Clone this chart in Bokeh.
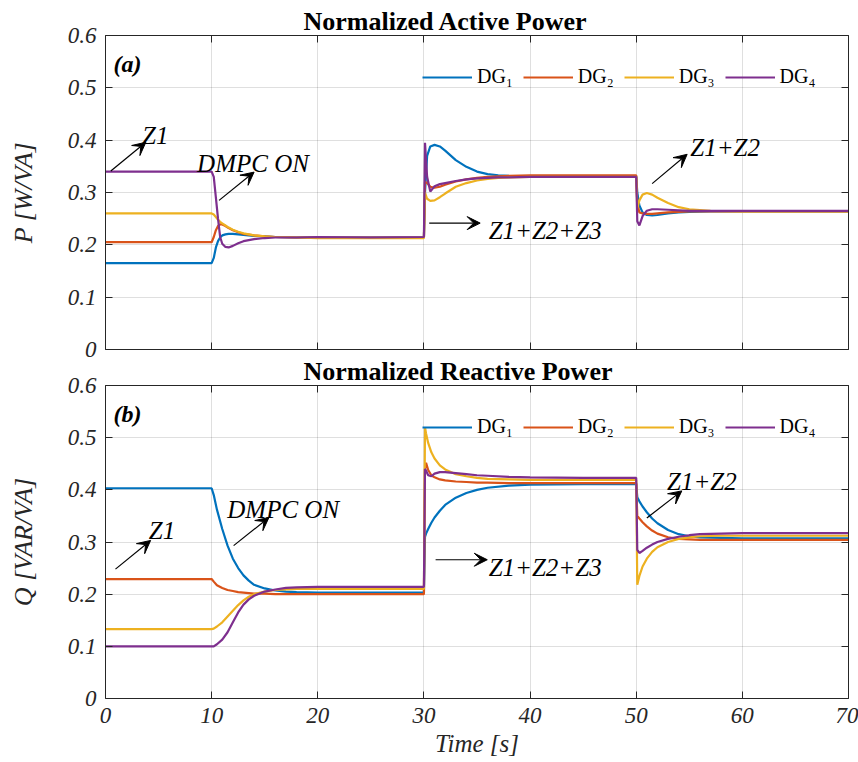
from bokeh.plotting import figure
from bokeh.models import (Range1d, LinearAxis, FixedTicker, Legend, LegendItem,
                          Label, Arrow, VeeHead, CustomJSTickFormatter)
from bokeh.layouts import column
from bokeh.embed import file_html
from bokeh.resources import INLINE

# ---------------- data ----------------
t_p = [0, 10, 10.2, 10.4, 10.6, 10.8, 11, 11.3, 11.6, 12, 12.5, 13, 14, 15, 16,
       18, 20, 25, 30, 30.1, 30.3, 30.6, 31, 31.5, 32, 33, 34, 35, 36, 37,
       38, 40, 45, 50, 50.1, 50.3, 50.6, 51, 51.5, 52, 53, 54, 55, 57, 60, 65, 70]
p_dg1 = [0.165, 0.165, 0.175, 0.195, 0.207, 0.214, 0.218, 0.220, 0.221, 0.221,
         0.220, 0.219, 0.217, 0.216, 0.215,
         0.214, 0.214, 0.214, 0.214, 0.300,
         0.370, 0.388, 0.391, 0.388, 0.380,
         0.362, 0.349, 0.340, 0.335, 0.333,
         0.332, 0.331, 0.331, 0.331, 0.300,
         0.275, 0.262, 0.257, 0.256, 0.257,
         0.260, 0.262, 0.263, 0.264, 0.264,
         0.264, 0.264]
p_dg2 = [0.205, 0.205, 0.215, 0.228, 0.236, 0.239, 0.239, 0.236, 0.232, 0.228,
         0.224, 0.221, 0.218, 0.216, 0.215,
         0.214, 0.214, 0.214, 0.214, 0.320,
         0.318, 0.311, 0.309, 0.311, 0.315,
         0.321, 0.325, 0.328, 0.330, 0.331,
         0.332, 0.333, 0.333, 0.333, 0.280,
         0.262, 0.260, 0.259, 0.259, 0.260,
         0.262, 0.263, 0.264, 0.264, 0.264,
         0.264, 0.264]
p_dg3 = [0.260, 0.260, 0.258, 0.253, 0.248, 0.244, 0.241, 0.237, 0.233, 0.229,
         0.225, 0.222, 0.218, 0.216, 0.215,
         0.214, 0.213, 0.213, 0.213, 0.300,
         0.288, 0.284, 0.285, 0.291, 0.298,
         0.311, 0.318, 0.323, 0.326, 0.328,
         0.329, 0.330, 0.330, 0.330, 0.270,
         0.285, 0.296, 0.299, 0.296, 0.290,
         0.280, 0.272, 0.268, 0.265, 0.264,
         0.264, 0.264]
p_dg4 = [0.340, 0.340, 0.330, 0.290, 0.250, 0.215, 0.202, 0.196, 0.195, 0.198,
         0.203, 0.207, 0.211, 0.213, 0.214,
         0.214, 0.215, 0.214, 0.215, 0.395,
         0.330, 0.302, 0.312, 0.316, 0.318,
         0.322, 0.325, 0.327, 0.328, 0.329,
         0.329, 0.330, 0.330, 0.330, 0.245,
         0.237, 0.255, 0.265, 0.268, 0.268,
         0.267, 0.266, 0.265, 0.265, 0.265,
         0.265, 0.265]

t_q = [0, 10, 10.2, 10.5, 11, 11.5, 12, 12.5, 13, 13.5, 14, 15, 16, 17, 18, 20,
       25, 30, 30.1, 30.2, 30.4, 30.7, 31, 31.5, 32, 33, 34, 35, 36, 38, 40,
       45, 50, 50.1, 50.3, 50.6, 51, 51.5, 52, 53, 54, 55, 56, 58, 60, 65, 70]
q_dg1 = [0.403, 0.403, 0.390, 0.362, 0.325, 0.293,
         0.268, 0.250, 0.236, 0.226, 0.218, 0.211, 0.207, 0.205, 0.204, 0.203, 0.203, 0.203,
         0.310, 0.316, 0.325, 0.337, 0.347, 0.360, 0.371, 0.385, 0.394, 0.400, 0.404,
         0.408, 0.410, 0.411, 0.411,
         0.386, 0.378, 0.368, 0.357, 0.345, 0.336, 0.323, 0.315, 0.311, 0.309,
         0.308, 0.307, 0.307, 0.307]
q_dg2 = [0.229, 0.229, 0.224, 0.217, 0.212, 0.208,
         0.206, 0.204, 0.203, 0.202, 0.201, 0.201, 0.200, 0.200, 0.200, 0.200, 0.200, 0.200,
         0.440, 0.452, 0.438, 0.428, 0.424, 0.420, 0.418, 0.416, 0.415, 0.414, 0.414,
         0.413, 0.413, 0.413, 0.413,
         0.350, 0.345, 0.338, 0.330, 0.322, 0.316, 0.309, 0.306, 0.305, 0.304,
         0.304, 0.304, 0.304, 0.304]
q_dg3 = [0.133, 0.133, 0.134, 0.138, 0.146, 0.157,
         0.168, 0.179, 0.188, 0.195, 0.200, 0.205, 0.208, 0.209, 0.210, 0.210, 0.210, 0.210,
         0.520, 0.508, 0.490, 0.472, 0.460, 0.447, 0.439, 0.430, 0.426, 0.423, 0.421,
         0.420, 0.419, 0.419, 0.419,
         0.218, 0.235, 0.253, 0.268, 0.281, 0.290, 0.300, 0.306, 0.309, 0.311,
         0.312, 0.312, 0.312, 0.312]
q_dg4 = [0.100, 0.100, 0.100, 0.104, 0.113, 0.127,
         0.146, 0.165, 0.180, 0.190, 0.197, 0.205, 0.209, 0.212, 0.213, 0.214, 0.214, 0.214,
         0.440, 0.437, 0.428, 0.426, 0.431, 0.434, 0.434, 0.432, 0.430, 0.428, 0.427,
         0.425, 0.424, 0.423, 0.423,
         0.285, 0.279, 0.283, 0.289, 0.295, 0.300, 0.306, 0.310, 0.313, 0.315,
         0.316, 0.317, 0.317, 0.317]

series_labels = ["DG\u2081", "DG\u2082", "DG\u2083", "DG\u2084"]
x_ticks = [0, 10, 20, 30, 40, 50, 60, 70]
y_ticks = [0, 0.1, 0.2, 0.3, 0.4, 0.5, 0.6]
y_tick_labels = ["0", "0.1", "0.2", "0.3", "0.4", "0.5", "0.6"]
titles = ["Normalized Active Power", "Normalized Reactive Power"]

# ---------------- styling ----------------
FONT = "Liberation Serif"
COLORS = ["#0072BD", "#D95319", "#EDB120", "#7E2F8E"]
AX = "#262626"


def style_axis(ax, ticks, labels=True, overrides=None):
    ax.ticker = FixedTicker(ticks=ticks)
    ax.axis_line_color = AX
    ax.axis_line_width = 1
    ax.major_tick_line_color = AX
    ax.major_tick_in = 7
    ax.major_tick_out = 0
    ax.minor_tick_line_color = None
    ax.major_label_text_font = FONT
    ax.major_label_text_font_style = "italic"
    ax.major_label_text_color = AX
    if labels:
        ax.major_label_text_font_size = "23px"
        ax.major_label_standoff = 9
    else:
        ax.formatter = CustomJSTickFormatter(code="return ''")
        ax.major_label_text_font_size = "1px"
        ax.major_label_standoff = 0
    if overrides:
        ax.major_label_overrides = overrides


def make_panel(t, ys, title, title_offset, ylabel, tag, show_x_labels, fh,
               border_top, border_bottom, notes, arrows, legend_vy):
    p = figure(output_backend="svg", toolbar_location=None,
               frame_width=743, frame_height=fh,
               x_range=Range1d(0, 70), y_range=Range1d(0, 0.6),
               min_border_left=105, min_border_right=10,
               min_border_top=border_top, min_border_bottom=border_bottom)
    p.outline_line_color = None
    p.background_fill_color = "white"

    p.title.text = title
    p.title.text_font = FONT
    p.title.text_font_style = "bold"
    p.title.text_font_size = "26px"
    p.title.text_color = "black"
    p.title.align = "left"
    p.title.offset = title_offset
    p.title.standoff = 0

    bottom = p.below[0]
    left = p.left[0]
    ovr = dict(zip(y_ticks, y_tick_labels))
    style_axis(bottom, x_ticks, labels=show_x_labels)
    style_axis(left, y_ticks, labels=True, overrides=ovr)
    top = LinearAxis()
    style_axis(top, x_ticks, labels=False)
    right = LinearAxis()
    style_axis(right, y_ticks, labels=False)
    p.add_layout(top, "above")
    p.add_layout(right, "right")

    left.axis_label = ylabel
    left.axis_label_text_font = FONT
    left.axis_label_text_font_style = "italic"
    left.axis_label_text_font_size = "26px"
    left.axis_label_text_color = AX
    left.axis_label_standoff = 27
    if show_x_labels:
        bottom.axis_label = "Time [s]"
        bottom.axis_label_text_font = FONT
        bottom.axis_label_text_font_style = "italic"
        bottom.axis_label_text_font_size = "25px"
        bottom.axis_label_text_color = AX
        bottom.axis_label_standoff = 4

    p.xgrid.ticker = FixedTicker(ticks=x_ticks)
    p.ygrid.ticker = FixedTicker(ticks=y_ticks)
    for g in (p.xgrid[0], p.ygrid[0]):
        g.grid_line_color = AX
        g.grid_line_alpha = 0.15
        g.grid_line_width = 1

    items = []
    for y, c, lab in zip(ys, COLORS, series_labels):
        r = p.line(t, y, line_color=c, line_width=2.2)
        items.append(LegendItem(label=lab, renderers=[r]))
    leg = Legend(items=items, orientation="horizontal", location=(317, legend_vy),
                 glyph_width=50, glyph_height=20, label_height=20,
                 label_standoff=5, spacing=10, padding=0, margin=0,
                 border_line_color=None, background_fill_alpha=0,
                 label_text_font=FONT, label_text_font_size="20px",
                 label_text_color="black")
    p.add_layout(leg)

    p.add_layout(Label(x=0.75, y=0.545, text=tag, text_baseline="alphabetic",
                       text_font=FONT, text_font_style="bold italic",
                       text_font_size="24px", text_color="black"))
    for (x, y, txt) in notes:
        p.add_layout(Label(x=x, y=y, text=txt, text_baseline="alphabetic",
                           text_font=FONT, text_font_style="italic",
                           text_font_size="25px", text_color="black"))
    for (x0, y0, x1, y1) in arrows:
        p.add_layout(Arrow(x_start=x0, y_start=y0, x_end=x1, y_end=y1,
                           line_width=1.2, line_color="black",
                           end=VeeHead(size=13, fill_color="black",
                                       line_color="black", line_width=1)))
    return p


p1 = make_panel(t_p, [p_dg1, p_dg2, p_dg3, p_dg4], titles[0], 198,
                "P [W/VA]", "(a)", False, 314, 35, 12,
                [(3.45, 0.409, "Z1"), (8.63, 0.355, "DMPC ON"),
                 (36.1, 0.2275, "Z1+Z2+Z3"), (55.1, 0.386, "Z1+Z2")],
                [(0.5, 0.341, 3.8, 0.396), (10.7, 0.285, 14.0, 0.339),
                 (30.5, 0.2415, 35.3, 0.2415), (51.5, 0.317, 54.8, 0.373)],
                261)

p2 = make_panel(t_q, [q_dg1, q_dg2, q_dg3, q_dg4], titles[1], 198,
                "Q [VAR/VA]", "(b)", True, 313, 36, 60,
                [(4.08, 0.323, "Z1"), (11.47, 0.363, "DMPC ON"),
                 (36.1, 0.2515, "Z1+Z2+Z3"), (52.9, 0.416, "Z1+Z2")],
                [(0.94, 0.248, 4.25, 0.303), (12.07, 0.293, 15.4, 0.347),
                 (31.1, 0.266, 35.97, 0.266), (51.0, 0.346, 54.3, 0.398)],
                260)
# let the lower panel overlap the upper panel's empty bottom band
p2.border_fill_alpha = 0
p2.styles = {"margin-top": "-12px"}

layout = column(p1, p2, spacing=0)
open("out.html", "w").write(file_html(layout, INLINE))
